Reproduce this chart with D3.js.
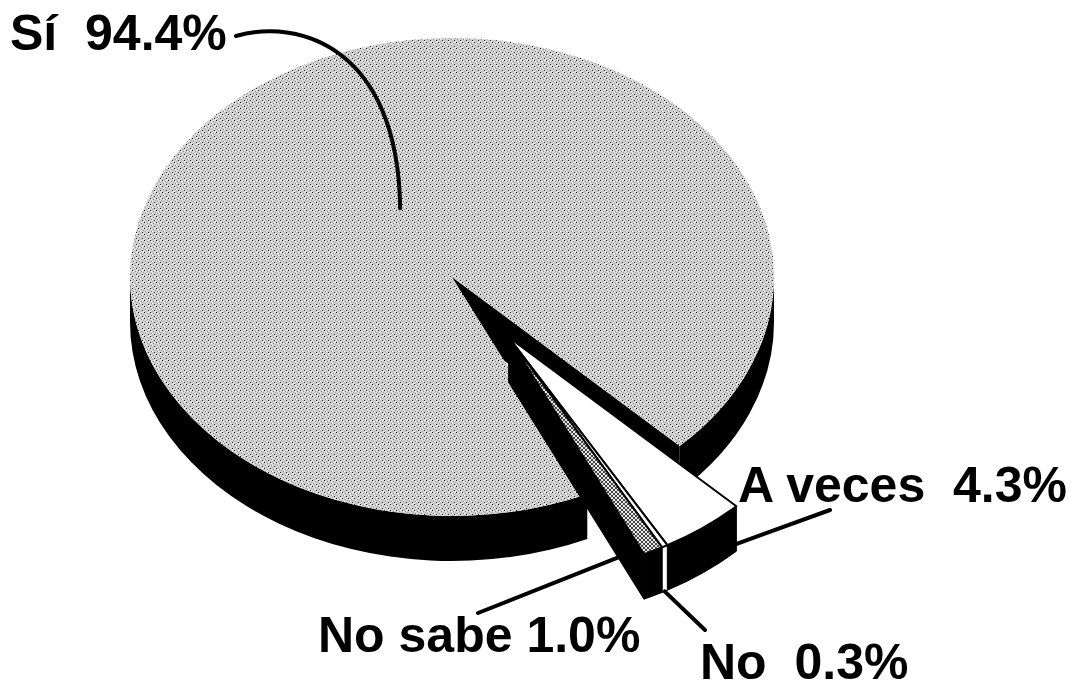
<!DOCTYPE html>
<html>
<head>
<meta charset="utf-8">
<script src="https://cdn.jsdelivr.net/npm/d3@7/dist/d3.min.js"></script>
<style>
  html, body { margin: 0; padding: 0; background: #fff; }
  svg { display: block; }
  text { font-family: "Liberation Sans", Arial, sans-serif; font-weight: bold; white-space: pre; }
</style>
</head>
<body>
<script>
// ---- data ----
const categories = ["Sí", "A veces", "No", "No sabe"];
const values = [94.4, 4.3, 0.3, 1.0];
const labelTexts = ["Sí  94.4%", "A veces  4.3%", "No  0.3%", "No sabe 1.0%"];

// ---- layout ----
const W = 1078, H = 690;
const cx = 452, cy = 277, R = 322, RY = 239, D = 45;
const explodeR = 99;
const labelPos = [[10, 50], [738, 502], [700, 679], [318, 652]];
const leaderEnds = [[236, 36], [830, 510], [705, 630], [478, 613]];
const fontSize = 50;

const svg = d3.select("body").append("svg").attr("width", W).attr("height", H);
const defs = svg.append("defs");

// stipple texture for the large slice
const stip = defs.append("pattern").attr("id", "stip").attr("patternUnits", "userSpaceOnUse")
  .attr("width", 6).attr("height", 6);
stip.append("rect").attr("width", 6).attr("height", 6).attr("fill", "#d0d0d0");
[[0,0,"#111"],[3,1,"#8a8a8a"],[1,3,"#8a8a8a"],[4,4,"#222"],[5,2,"#a8a8a8"],[2,5,"#a8a8a8"],[4,0,"#fff"],[1,1,"#fff"],[5,5,"#fff"],[2,3,"#fff"]]
  .forEach(([x, y, c]) => stip.append("rect").attr("x", x).attr("y", y).attr("width", 1).attr("height", 1).attr("fill", c));

// crosshatch texture
const hatch = defs.append("pattern").attr("id", "hatch").attr("patternUnits", "userSpaceOnUse")
  .attr("width", 4).attr("height", 4);
hatch.append("rect").attr("width", 4).attr("height", 4).attr("fill", "#e8e8e8");
hatch.append("path").attr("d", "M0,0 L4,4 M4,0 L0,4").attr("stroke", "#333").attr("stroke-width", 0.9);

// ---- pie layout ----
const total = d3.sum(values);
const a0 = Math.PI / 4 + 2 * Math.PI - 2 * Math.PI * values[0] / total;
const pie = d3.pie().sort(null).value(d => d).startAngle(a0).endAngle(a0 + 2 * Math.PI);
const arcs = pie(values);

const gapMid = (arcs[1].startAngle + arcs[3].endAngle) / 2;
const explodeOff = [explodeR * Math.cos(gapMid), explodeR * Math.sin(gapMid) * RY / R];
const offs = arcs.map((d, i) => i === 0 ? [0, 0] : explodeOff);

function pt(th, r, z, off) {
  return [cx + off[0] + r * R * Math.cos(th), cy + off[1] + r * RY * Math.sin(th) + z];
}
const f = p => p[0].toFixed(2) + "," + p[1].toFixed(2);

function topPath(a, b, off) {
  const large = (b - a) > Math.PI ? 1 : 0;
  return `M${f(pt(0, 0, 0, off))} L${f(pt(a, 1, 0, off))} A${R},${RY} 0 ${large} 1 ${f(pt(b, 1, 0, off))} Z`;
}
function rimPaths(a, b, off) {
  const out = [];
  for (let k = -1; k <= 2; k++) {
    const lo = Math.max(a, 2 * Math.PI * k), hi = Math.min(b, 2 * Math.PI * k + Math.PI);
    if (hi > lo) {
      out.push(`M${f(pt(lo, 1, 0, off))} A${R},${RY} 0 0 1 ${f(pt(hi, 1, 0, off))} L${f(pt(hi, 1, D, off))} A${R},${RY} 0 0 0 ${f(pt(lo, 1, D, off))} Z`);
    }
  }
  return out;
}
function facePath(th, off) {
  return `M${f(pt(th, 0, 0, off))} L${f(pt(th, 1, 0, off))} L${f(pt(th, 1, D, off))} L${f(pt(th, 0, D, off))} Z`;
}

const topFill = ["url(#stip)", "#ffffff", "#ffffff", "url(#hatch)"];
const rimFill = ["#000", "#000", "#fff", "#000"];

const g = svg.append("g");

// main slice: visible cut face (end), rim, top
g.append("path").attr("d", facePath(arcs[0].endAngle, offs[0])).attr("fill", "#000");
rimPaths(arcs[0].startAngle, arcs[0].endAngle, offs[0]).forEach(p =>
  g.append("path").attr("d", p).attr("fill", rimFill[0]));
g.append("path").attr("d", topPath(arcs[0].startAngle, arcs[0].endAngle, offs[0]))
  .attr("fill", topFill[0]);

// exploded group
const grp = arcs.slice(1);
g.append("path").attr("d", facePath(arcs[3].endAngle, explodeOff))
  .attr("fill", "#000").attr("stroke", "#000").attr("stroke-width", 1);
grp.forEach((d, j) => {
  const i = j + 1;
  rimPaths(d.startAngle, d.endAngle, offs[i]).forEach(p =>
    g.append("path").attr("d", p).attr("fill", rimFill[i]).attr("stroke", "#000").attr("stroke-width", 1));
});
grp.forEach((d, j) => {
  const i = j + 1;
  g.append("path").attr("d", topPath(d.startAngle, d.endAngle, offs[i]))
    .attr("fill", topFill[i]).attr("stroke", "#000").attr("stroke-width", 2).attr("stroke-linejoin", "round");
});

// ---- leaders ----
const lg = svg.append("g").attr("fill", "none").attr("stroke", "#000").attr("stroke-width", 4).attr("stroke-linecap", "round");
const midSi = (arcs[0].startAngle + arcs[0].endAngle) / 2;
const aSi = pt(midSi + 0.1, 0.33, 0, offs[0]);
const e0 = leaderEnds[0];
lg.append("path").attr("d", `M${e0[0]},${e0[1]} C300,18 398,48 ${f(aSi)}`);

const aAv = pt(arcs[1].startAngle + 0.01, 1, D * 0.82, offs[1]);
lg.append("line").attr("x1", aAv[0]).attr("y1", aAv[1]).attr("x2", leaderEnds[1][0]).attr("y2", leaderEnds[1][1]);

const aNo = pt((arcs[2].startAngle + arcs[2].endAngle) / 2, 1, D, offs[2]);
lg.append("line").attr("x1", aNo[0]).attr("y1", aNo[1]).attr("x2", leaderEnds[2][0]).attr("y2", leaderEnds[2][1]);

const aNs = pt(arcs[3].endAngle, 0.82, D * 0.93, offs[3]);
lg.append("line").attr("x1", aNs[0]).attr("y1", aNs[1]).attr("x2", leaderEnds[3][0]).attr("y2", leaderEnds[3][1]);

// ---- labels ----
svg.append("g").selectAll("text").data(labelTexts).join("text")
  .attr("x", (d, i) => labelPos[i][0]).attr("y", (d, i) => labelPos[i][1])
  .attr("font-size", fontSize).attr("fill", "#000")
  .text(d => d);
</script>
</body>
</html>
